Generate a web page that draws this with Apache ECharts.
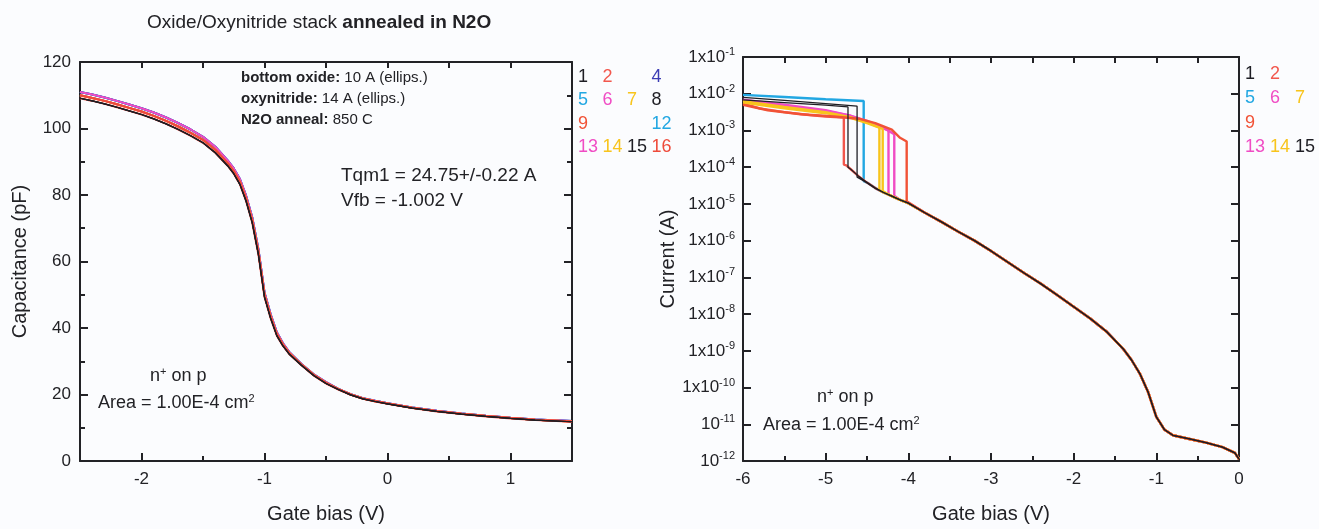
<!DOCTYPE html>
<html><head><meta charset="utf-8">
<script src="https://cdn.jsdelivr.net/npm/echarts@6/dist/echarts.min.js"></script>
<style>html,body{margin:0;padding:0;background:#fbfcfe}#c{width:1319px;height:529px}</style>
</head><body><div id="c"></div>
<script>
// ---------------- C-V data (left panel) ----------------
const cvX = [-2.5,-2.4,-2.3,-2.2,-2.1,-2.0,-1.9,-1.8,-1.7,-1.6,-1.5,-1.4,-1.3,-1.25,-1.2,-1.15,-1.1,-1.05,-1.0,-0.95,-0.9,-0.85,-0.8,-0.7,-0.6,-0.5,-0.4,-0.3,-0.2,-0.1,0,0.2,0.4,0.6,0.8,1.0,1.2,1.5];
const cvUpper = [111,110.2,109.3,108.3,107.2,106.1,104.8,103.3,101.6,99.7,97.5,94.5,90.4,88,84.8,79.8,73.3,63.8,50.7,44.1,38.7,35.4,32.8,29.2,26.1,23.7,21.7,20.1,18.9,18.1,17.4,16.1,15.1,14.3,13.6,13,12.5,12];
const cvMid = [110,109.2,108.3,107.3,106.2,105.1,103.8,102.3,100.6,98.7,96.6,93.6,89.6,87.2,84,79,72.5,63,50,43.5,38.2,35,32.5,29,25.9,23.5,21.6,20,18.8,18,17.3,16,15,14.2,13.5,12.9,12.4,11.9];
const cvLower = [109.1,108.3,107.4,106.4,105.3,104.2,102.9,101.4,99.7,97.8,95.7,92.7,88.8,86.4,83.2,78.2,71.7,62.2,49.3,42.9,37.7,34.6,32.2,28.8,25.7,23.3,21.5,19.9,18.7,17.9,17.2,15.9,14.9,14.1,13.4,12.8,12.3,11.8];
const cvDevices = ['5','12','4','6','7','14','13','9','2','16','1','8','15'];
const cvDeviceCurve = {'1':'lower','2':'lower','4':'upper','5':'upper','6':'upper','7':'mid','8':'lower','9':'mid','12':'upper','13':'mid','14':'mid','15':'lower','16':'mid'};
const cvTicksX = [-2,-1,0,1];

// ---------------- I-V data (right panel), log10(current / A) ----------------
const ivCommonX = [-4.8,-4.75,-4.7,-4.6,-4.5,-4.4,-4.3,-4.2,-4.1,-4.0,-3.8,-3.6,-3.4,-3.2,-3.0,-2.8,-2.6,-2.4,-2.2,-2.0,-1.8,-1.6,-1.4,-1.3,-1.2,-1.1,-1.0,-0.9,-0.8,-0.6,-0.4,-0.2,-0.05,0];
const ivCommonLog = [-3.9,-3.95,-4.05,-4.25,-4.42,-4.57,-4.69,-4.79,-4.89,-4.98,-5.24,-5.49,-5.75,-6.0,-6.28,-6.58,-6.88,-7.17,-7.48,-7.8,-8.12,-8.48,-8.95,-9.25,-9.62,-10.12,-10.8,-11.15,-11.3,-11.4,-11.5,-11.62,-11.78,-11.95];
const ivPre1  = [[-6,-2.17],[-5.5,-2.24],[-5,-2.31],[-4.73,-2.36],[-4.73,-4.0]];
const ivPre2  = [[-6,-2.26],[-5.8,-2.4],[-5.5,-2.5],[-5.2,-2.58],[-5.0,-2.62],[-4.78,-2.65],[-4.78,-3.93]];
const ivPre5  = [[-6,-2.03],[-5.5,-2.09],[-5,-2.15],[-4.54,-2.2],[-4.54,-4.38]];
const ivPre6  = [[-6,-2.16],[-5.5,-2.3],[-5,-2.45],[-4.7,-2.6],[-4.5,-2.76],[-4.35,-2.9],[-4.24,-3.0],[-4.24,-4.74]];
const ivPre7  = [[-6,-2.2],[-5.5,-2.36],[-5,-2.5],[-4.7,-2.64],[-4.5,-2.78],[-4.35,-2.92],[-4.35,-4.62]];
const ivPre9  = [[-6,-2.3],[-5.7,-2.45],[-5.3,-2.56],[-4.9,-2.62],[-4.6,-2.68],[-4.4,-2.8],[-4.2,-2.98],[-4.1,-3.2],[-4.02,-3.3],[-4.02,-4.93]];
const ivPre13 = [[-6,-2.19],[-5.5,-2.33],[-5,-2.47],[-4.7,-2.6],[-4.5,-2.74],[-4.3,-2.93],[-4.17,-3.1],[-4.17,-4.78]];
const ivPre14 = [[-6,-2.24],[-5.5,-2.4],[-5,-2.53],[-4.7,-2.66],[-4.5,-2.8],[-4.31,-2.96],[-4.31,-4.65]];
const ivPre15 = [[-6,-2.1],[-5.5,-2.18],[-5,-2.27],[-4.62,-2.34],[-4.62,-4.27]];
const ivDevices = ['5','2','6','13','7','14','9','15','1'];
const ivPre = {'1':ivPre1,'2':ivPre2,'5':ivPre5,'6':ivPre6,'7':ivPre7,'9':ivPre9,'13':ivPre13,'14':ivPre14,'15':ivPre15};

// ---------------- legend layout (device label grids) ----------------
const cvLegendRows = [['1','2',null,'4'],['5','6','7','8'],['9',null,null,'12'],['13','14','15','16']];
const ivLegendRows = [['1','2',null],['5','6','7'],['9',null,null],['13','14','15']];

// ---------------- styles ----------------
const F = '"Liberation Sans", Arial, Helvetica, sans-serif';
const INK = '#222226';
const devColor = {
  '1':'#1e1e24','2':'#f2574d','4':'#3c3cb4','5':'#22a7e2','6':'#f04cc4','7':'#f8c41c','8':'#1e1e24',
  '9':'#f15236','12':'#22a7e2','13':'#f04cc4','14':'#f8c41c','15':'#1e1e24','16':'#ee4b3b'
};
const darkDev = {'1': true, '8': true, '15': true};

const cvSets = {upper: cvUpper, mid: cvMid, lower: cvLower};
const series = [];
cvDevices.forEach(d => {
  const arr = cvSets[cvDeviceCurve[d]];
  series.push({
    name: 'cv' + d, type: 'line', xAxisIndex: 0, yAxisIndex: 0,
    showSymbol: false, symbol: 'none',
    lineStyle: {width: darkDev[d] ? 1.2 : 2, color: devColor[d]}, animation: false, silent: true,
    data: cvX.map((x, i) => [x, arr[i]])
  });
});
ivDevices.forEach(d => {
  const pre = ivPre[d];
  const vbd = pre[pre.length - 1][0];
  const data = pre.slice();
  ivCommonX.forEach((x, i) => { if (x > vbd) data.push([x, ivCommonLog[i]]); });
  series.push({
    name: 'iv' + d, type: 'line', xAxisIndex: 3, yAxisIndex: 2,
    showSymbol: false, symbol: 'none',
    lineStyle: {width: darkDev[d] ? 1.3 : 2.4, color: devColor[d]}, animation: false, silent: true,
    data: data
  });
});

const axLine = {show: true, onZero: false, lineStyle: {color: INK, width: 2}};
const noLine = {show: false, onZero: false};
const lbl = {color: INK, fontFamily: F, fontSize: 17};
const nameStyle = {color: INK, fontFamily: F, fontSize: 20};

const graphic = [];
function legendGrid(rows, x0, dx, y0, dy) {
  rows.forEach((row, r) => row.forEach((d, c) => {
    if (!d) return;
    graphic.push({type: 'text', left: x0 + c * dx, top: y0 + r * dy,
      style: {text: d, fill: devColor[d], font: '18px ' + F}});
  }));
}
legendGrid(cvLegendRows, 578, 24.5, 68, 23.5);
legendGrid(ivLegendRows, 1245, 25, 65, 24.3);

const supRich = {
  t: {fontSize: 18, fontFamily: F, color: INK},
  s: {fontSize: 11, fontFamily: F, color: INK, padding: [0, 0, 10, 0]}
};
function txt(left, top, text, size, rich) {
  graphic.push({type: 'text', left, top, style: {text, font: size + 'px ' + F, fill: INK, rich}});
}
const annRich = {
  b: {fontSize: 15, fontWeight: 'bold', fontFamily: F, color: INK},
  r: {fontSize: 15, fontFamily: F, color: INK}
};
txt(241, 70, '{b|bottom oxide:}{r| 10 A (ellips.)}', 15, annRich);
txt(241, 91, '{b|oxynitride:}{r| 14 A (ellips.)}', 15, annRich);
txt(241, 112, '{b|N2O anneal:}{r| 850 C}', 15, annRich);
txt(341, 166, 'Tqm1 = 24.75+/-0.22 A', 19);
txt(341, 191, 'Vfb = -1.002 V', 19);
txt(150, 366, '{t|n}{s|+}{t| on p}', 18, supRich);
txt(98, 393, '{t|Area = 1.00E-4 cm}{s|2}', 18, supRich);
txt(817, 387, '{t|n}{s|+}{t| on p}', 18, supRich);
txt(763, 415, '{t|Area = 1.00E-4 cm}{s|2}', 18, supRich);

const option = {
  backgroundColor: '#fbfcfe',
  animation: false,
  title: {
    text: '{n|Oxide/Oxynitride stack }{b|annealed in N2O}', left: 142, top: 8,
    textStyle: {fontWeight: 'normal', rich: {
      n: {fontSize: 19, fontFamily: F, color: INK, fontWeight: 'normal'},
      b: {fontSize: 19, fontFamily: F, color: INK, fontWeight: 'bold'}
    }}
  },
  grid: [
    {left: 80, top: 62, width: 492, height: 403},
    {left: 743, top: 57, width: 496, height: 406}
  ],
  xAxis: [
    {gridIndex: 0, type: 'value', position: 'bottom', min: -2.5, max: 1.5,
     axisLine: axLine, splitLine: {show: false},
     axisTick: {show: true, inside: true, length: 8, customValues: cvTicksX, lineStyle: {color: INK, width: 2}},
     axisLabel: Object.assign({customValues: cvTicksX, margin: 10}, lbl),
     name: 'Gate bias (V)', nameLocation: 'middle', nameGap: 43, nameTextStyle: nameStyle},
    {gridIndex: 0, type: 'value', position: 'bottom', min: -2.5, max: 1.5, interval: 0.5,
     axisLine: noLine, splitLine: {show: false}, axisLabel: {show: false},
     axisTick: {show: true, inside: true, length: 5, lineStyle: {color: INK, width: 2}}},
    {gridIndex: 0, type: 'value', position: 'top', min: -2.5, max: 1.5, interval: 0.5,
     axisLine: axLine, splitLine: {show: false}, axisLabel: {show: false},
     axisTick: {show: true, inside: true, length: 6, lineStyle: {color: INK, width: 2}}},
    {gridIndex: 1, type: 'value', position: 'bottom', min: -6, max: 0, interval: 1,
     axisLine: axLine, splitLine: {show: false},
     axisTick: {show: true, inside: true, length: 8, lineStyle: {color: INK, width: 2}},
     minorTick: {show: true, splitNumber: 2, length: 5, lineStyle: {color: INK, width: 2}},
     axisLabel: Object.assign({margin: 10}, lbl),
     name: 'Gate bias (V)', nameLocation: 'middle', nameGap: 43, nameTextStyle: nameStyle},
    {gridIndex: 1, type: 'value', position: 'top', min: -6, max: 0, interval: 0.5,
     axisLine: axLine, splitLine: {show: false}, axisLabel: {show: false},
     axisTick: {show: true, inside: true, length: 6, lineStyle: {color: INK, width: 2}}}
  ],
  yAxis: [
    {gridIndex: 0, type: 'value', position: 'left', min: 0, max: 120, interval: 20,
     axisLine: axLine, splitLine: {show: false},
     axisTick: {show: true, inside: true, length: 8, lineStyle: {color: INK, width: 2}},
     minorTick: {show: true, splitNumber: 2, length: 5, lineStyle: {color: INK, width: 2}},
     axisLabel: Object.assign({margin: 9}, lbl),
     name: 'Capacitance (pF)', nameLocation: 'middle', nameGap: 50, nameTextStyle: nameStyle},
    {gridIndex: 0, type: 'value', position: 'right', min: 0, max: 120, interval: 20,
     axisLine: axLine, splitLine: {show: false}, axisLabel: {show: false},
     axisTick: {show: true, inside: true, length: 8, lineStyle: {color: INK, width: 2}},
     minorTick: {show: true, splitNumber: 2, length: 5, lineStyle: {color: INK, width: 2}}},
    {gridIndex: 1, type: 'value', position: 'left', min: -12, max: -1, interval: 1,
     axisLine: axLine, splitLine: {show: false},
     axisTick: {show: true, inside: true, length: 8, lineStyle: {color: INK, width: 2}},
     axisLabel: Object.assign({margin: 8,
       formatter: v => { const e = Math.round(v); return (e >= -10 ? '1x10' : '10') + '{s|' + e + '}'; },
       rich: {s: {fontSize: 11, fontFamily: F, color: INK, padding: [0, 0, 10, 0]}}}, lbl),
     name: 'Current (A)', nameLocation: 'middle', nameGap: 58, nameTextStyle: nameStyle},
    {gridIndex: 1, type: 'value', position: 'right', min: -12, max: -1, interval: 1,
     axisLine: axLine, splitLine: {show: false}, axisLabel: {show: false},
     axisTick: {show: true, inside: true, length: 8, lineStyle: {color: INK, width: 2}}}
  ],
  graphic: graphic,
  series: series
};
const chart = echarts.init(document.getElementById('c'), null, {renderer: 'canvas'});
chart.setOption(option);
</script>
</body></html>
